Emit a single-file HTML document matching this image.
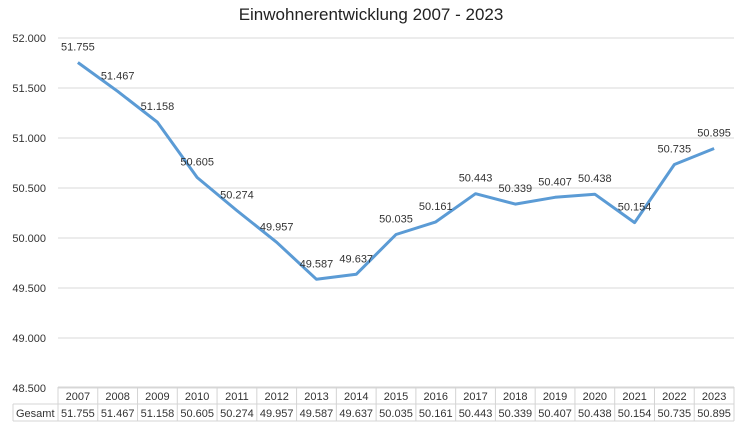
<!DOCTYPE html>
<html><head><meta charset="utf-8"><style>
body{margin:0;background:#fff;font-family:"Liberation Sans",Calibri,sans-serif;}
svg text{font-family:"Liberation Sans",sans-serif;}
</style></head><body>
<svg width="742" height="427" id="c">
<text x="371" y="20" text-anchor="middle" font-size="17" fill="#222">Einwohnerentwicklung 2007 - 2023</text>
<g id="grid"></g><g id="series"></g><g id="table"></g>
</svg>
<script>
const years=["2007","2008","2009","2010","2011","2012","2013","2014","2015","2016","2017","2018","2019","2020","2021","2022","2023"];
const values=[51755,51467,51158,50605,50274,49957,49587,49637,50035,50161,50443,50339,50407,50438,50154,50735,50895];
const ticks=[48500,49000,49500,50000,50500,51000,51500,52000];
const svgEl=document.getElementById('c'),NS='http://www.w3.org/2000/svg';
const x0=58,x1=734,cw=(x1-x0)/years.length;
function yPos(v){return 388-(v-48500)*0.1;}
function xPos(i){return x0+cw*(i+0.5);}
function fmt(v){return (v/1000).toFixed(3);}
function mk(t,a,p){const e=document.createElementNS(NS,t);for(const k in a)e.setAttribute(k,a[k]);p.appendChild(e);return e;}
const gridG=document.getElementById('grid');
ticks.forEach(t=>{
 const l=mk('line',{x1:x0,x2:x1,y1:yPos(t),y2:yPos(t),stroke:'#d9d9d9'},gridG);
 
 
 const tx=mk('text',{x:46,y:yPos(t)+4,'text-anchor':'end','font-size':'11',fill:'#333'},gridG);
 tx.textContent=fmt(t);
 
 
});
const seriesG=document.getElementById('series');
const pl=mk('polyline',{points:values.map((v,i)=>xPos(i)+','+yPos(v)).join(' '),fill:'none',stroke:'#5b9bd5','stroke-width':'3','stroke-linejoin':'round'},seriesG);


values.forEach((v,i)=>{
 const t=mk('text',{x:xPos(i),y:yPos(v)-12,'text-anchor':'middle','font-size':'11',fill:'#333'},seriesG);
 t.textContent=fmt(v);
 
 
});
const tableG=document.getElementById('table');
const rowTop=387,rowMid=404,rowBot=421,lx=13,bc='#d4d4d4';
[[x0,rowTop,x1,rowTop],[lx,rowMid,x1,rowMid],[lx,rowBot,x1,rowBot],[lx,rowMid,lx,rowBot]].forEach(a=>mk('line',{x1:a[0],y1:a[1],x2:a[2],y2:a[3],stroke:bc},tableG));
for(let i=0;i<=years.length;i++){mk('line',{x1:x0+cw*i,x2:x0+cw*i,y1:rowTop,y2:rowBot,stroke:bc},tableG);}
const gl=mk('text',{x:16,y:417,'font-size':'11',fill:'#333'},tableG);gl.textContent='Gesamt';


years.forEach((yr,i)=>{
 const a=mk('text',{x:xPos(i),y:400,'text-anchor':'middle','font-size':'11',fill:'#333'},tableG);a.textContent=yr;
 
 
 const b=mk('text',{x:xPos(i),y:417,'text-anchor':'middle','font-size':'11',fill:'#333'},tableG);b.textContent=fmt(values[i]);
 
 
});
</script>
</body></html>
